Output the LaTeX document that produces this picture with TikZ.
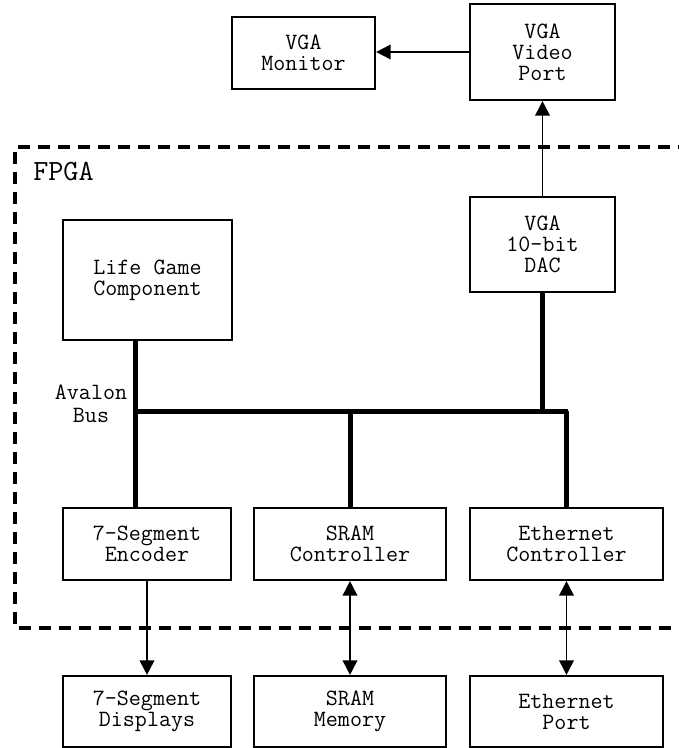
\documentclass[tikz,border=0pt]{standalone}
\usepackage{fontspec}
\usepackage{tikz}
\usetikzlibrary{arrows.meta}
\tikzset{
  blk/.style={draw,line width=1.6pt,align=center,inner sep=0pt,
    font=\ttfamily\fontsize{17.5}{15.75}\selectfont},
  lbl/.style={align=center,inner sep=0pt,font=\ttfamily\fontsize{17.5}{17.5}\selectfont},
  busline/.style={line width=3.75pt},
  sig/.style={line width=1.4pt,-{Triangle[length=11pt,width=11pt]}},
  bisig/.style={line width=1.4pt,{Triangle[length=11pt,width=11pt]}-{Triangle[length=11pt,width=11pt]}},
  fpgaline/.style={line width=2.5pt,dash pattern=on 9pt off 6pt}
}

\begin{document}
\begin{tikzpicture}[x=0.75pt,y=-0.75pt]
  \useasboundingbox (0,0) rectangle (678,748);
  \node[blk,minimum width=107.25pt,minimum height=54pt] (mon) at (303.5,53) {VGA\\Monitor};
  \node[blk,minimum width=108.75pt,minimum height=72pt] (port) at (542.5,52) {VGA\\Video\\Port};
  \draw[fpgaline] (690,147) -- (15,147) -- (15,628) -- (690,628);
  \node[lbl,anchor=west,font=\ttfamily\fontsize{22}{22}\selectfont] (fpga) at (33,172) {FPGA};
  \node[blk,minimum width=126.75pt,minimum height=90pt] (life) at (147.5,280) {Life Game\\Component};
  \node[blk,minimum width=108.75pt,minimum height=71.25pt] (dac) at (542.5,244.5) {VGA\\10-bit\\DAC};
  \node[blk,minimum width=126pt,minimum height=54pt] (enc) at (147,544) {7-Segment\\Encoder};
  \node[blk,minimum width=144pt,minimum height=54pt] (sramc) at (350,544) {SRAM\\Controller};
  \node[blk,minimum width=144.75pt,minimum height=54pt] (ethc) at (566.5,544) {Ethernet\\Controller};
  \node[blk,minimum width=126pt,minimum height=53.25pt] (disp) at (147,711.5) {7-Segment\\Displays};
  \node[blk,minimum width=144pt,minimum height=53.25pt] (mem) at (350,711.5) {SRAM\\Memory};
  \node[blk,minimum width=144.75pt,minimum height=53.25pt] (ethp) at (566.5,711.5) {Ethernet\\Port};
  \node[lbl] (avalon) at (91,404) {Avalon\\Bus};
  \coordinate (busl) at (135,411);
  \coordinate (busr) at (568,411);
  \draw[sig] (port.west) -- (port.west -| mon.east);
  \draw[sig] (dac.north) -- (port.south);
  \draw[busline] (life.south -| busl) -- (enc.north -| busl);
  \draw[busline] (busl) -- (busr);
  \draw[busline] (dac.south) -- (dac.south |- busl);
  \draw[busline] (sramc.north) -- (sramc.north |- busl);
  \draw[busline] (ethc.north) -- (ethc.north |- busr);
  \draw[sig] (enc.south) -- (disp.north);
  \draw[bisig] (sramc.south) -- (mem.north);
  \draw[bisig] (ethc.south) -- (ethp.north);
\end{tikzpicture}
\end{document}
